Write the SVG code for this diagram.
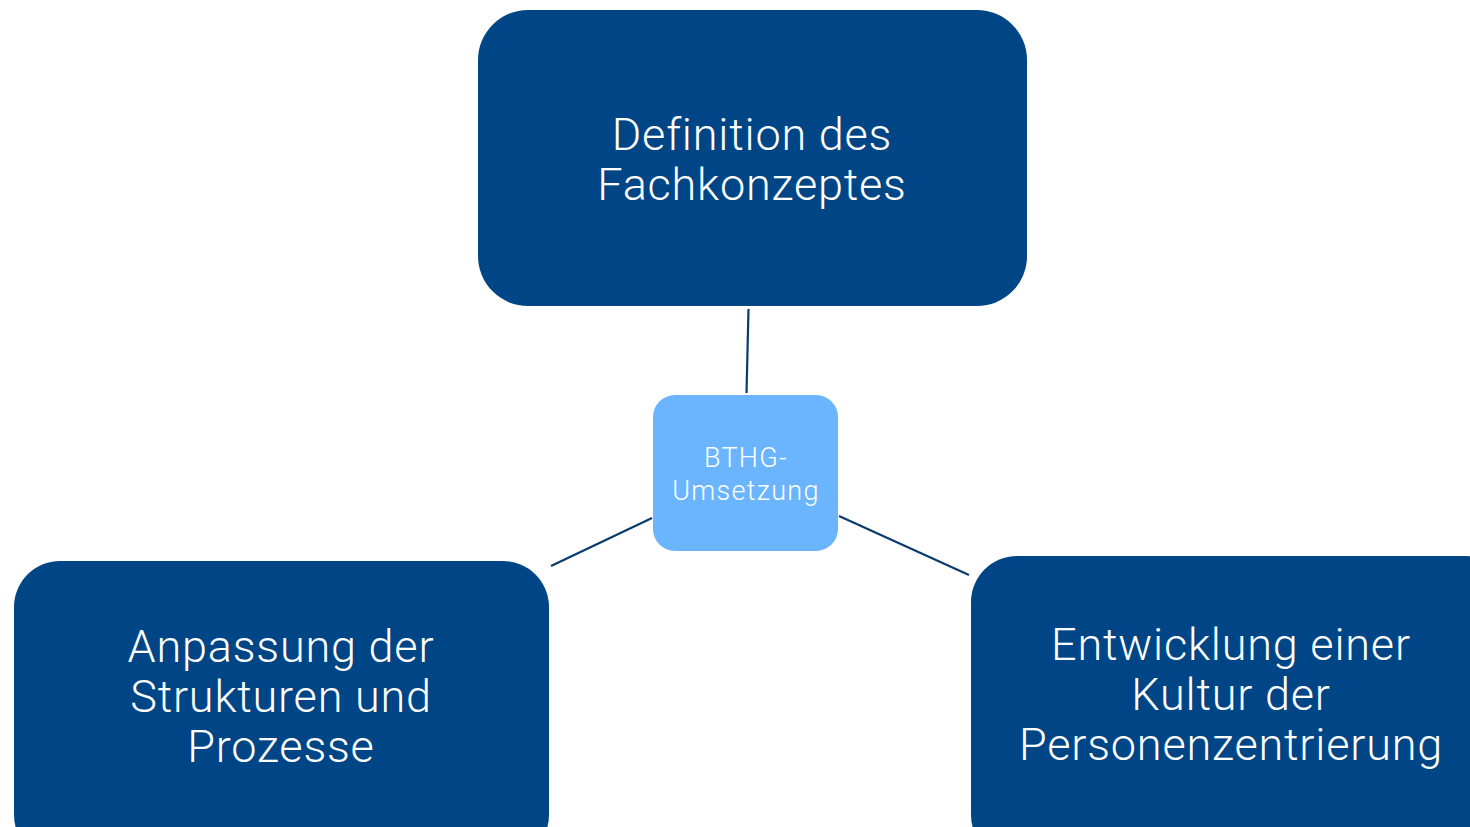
<svg xmlns="http://www.w3.org/2000/svg" width="1470" height="827" viewBox="0 0 1470 827">
<style>
.main{fill:#004586;}
.center{fill:#6bb5ff;}
.t{font-family:Roboto,"Liberation Sans",sans-serif;font-weight:300;fill:#ffffff;text-anchor:middle;}
.big{font-size:45px;letter-spacing:0.8px;}
.small{font-size:27px;letter-spacing:1.3px;}
.conn line{stroke:#0a3a6e;stroke-width:2.2;}
</style>
<rect width="1470" height="827" fill="#ffffff"/>
<g id="connectors" class="conn">
<line x1="748.5" y1="309" x2="746.5" y2="393"/>
<line x1="551" y1="566" x2="652" y2="518"/>
<line x1="839" y1="516" x2="969" y2="575"/>
</g>
<g id="node-top">
<rect class="main" x="478" y="10" width="549" height="296" rx="50" ry="50"/>
<text class="t big" x="752" y="150">Definition des</text>
<text class="t big" x="752" y="200">Fachkonzeptes</text>
</g>
<g id="node-center">
<rect class="center" x="653" y="395" width="185" height="156" rx="22" ry="22"/>
<text class="t small" x="746" y="467">BTHG-</text>
<text class="t small" x="746" y="500">Umsetzung</text>
</g>
<g id="node-left">
<rect class="main" x="14" y="561" width="535" height="300" rx="46" ry="46"/>
<text class="t big" x="281" y="662">Anpassung der</text>
<text class="t big" x="281" y="712">Strukturen und</text>
<text class="t big" x="281" y="762">Prozesse</text>
</g>
<g id="node-right">
<rect class="main" x="971" y="556" width="540" height="305" rx="46" ry="46"/>
<text class="t big" x="1231" y="660">Entwicklung einer</text>
<text class="t big" x="1231" y="710">Kultur der</text>
<text class="t big" x="1231" y="760">Personenzentrierung</text>
</g>
</svg>
